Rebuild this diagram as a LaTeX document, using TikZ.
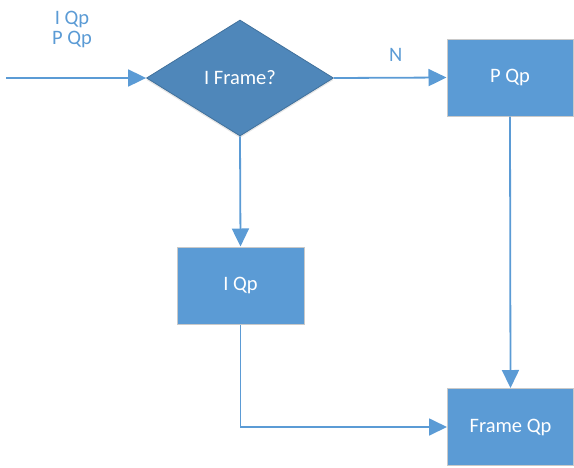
\documentclass[tikz,border=0pt]{standalone}
\usepackage{fontspec}
\setmainfont{Carlito}
\usetikzlibrary{arrows.meta,shapes.geometric,shadows}
\definecolor{boxblue}{HTML}{5B9BD5}
\definecolor{decblue}{HTML}{4F87BA}
\definecolor{decedge}{HTML}{41719C}
\definecolor{boxedge}{HTML}{C9C9C9}
\begin{document}
\begin{tikzpicture}[x=1pt,y=-1pt,
  every node/.style={font=\fontsize{20.5}{20}\selectfont},
  procbox/.style={rectangle,draw=boxedge,line width=1pt,fill=boxblue,text=white,
    minimum width=126pt,minimum height=77pt,inner sep=0pt},
  decision/.style={diamond,draw=decedge,line width=0.8pt,fill=decblue,text=white,
    minimum width=187pt,minimum height=116pt,inner sep=0pt,aspect=1.6,
    drop shadow={shadow xshift=0pt,shadow yshift=-2pt,opacity=0.25,fill=black!40}},
  flow/.style={draw=boxblue,line width=1.8pt,-{Triangle[length=18pt,width=17pt]}},
  lbl/.style={text=boxblue,align=center}]
\useasboundingbox (0,0) rectangle (574,467);
\node[decision] (dec) at (240,78) {I Frame?};
\node[procbox] (pqp) at (510,77.5) {P Qp};
\node[procbox,minimum width=127pt] (iqp) at (240.5,285.5) {I Qp};
\node[procbox] (fqp) at (510.5,427) {Frame Qp};
\coordinate (in) at (6,78);
\node[lbl] (inlbl) at (72,29) {I Qp\\P Qp};
\draw[flow] (in) -- (dec.west);
\draw[flow] (dec.east) -- (pqp.west) node[pos=0.55,above=12pt,lbl] (nlbl) {N};
\draw[flow] (dec.south) -- (iqp.north);
\draw[flow] (pqp.south) -- (fqp.north);
\draw[flow] (iqp.south) |- (fqp.west);
\end{tikzpicture}
\end{document}
